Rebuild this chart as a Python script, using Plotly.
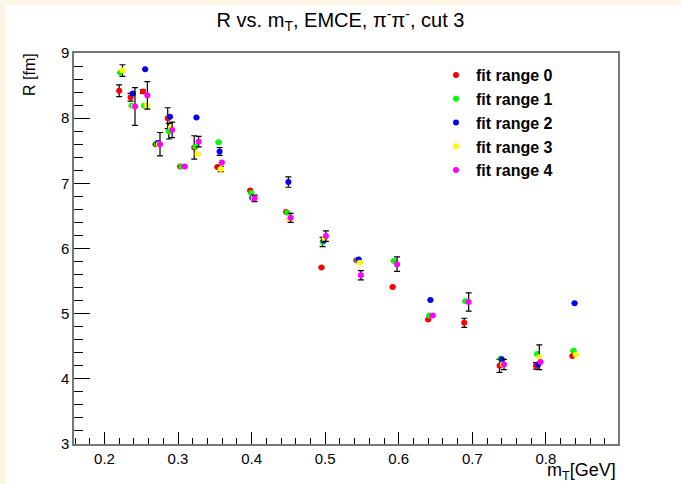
import plotly.graph_objects as go

# ---- data -------------------------------------------------------------
series_names = ["fit range 0", "fit range 1", "fit range 2", "fit range 3", "fit range 4"]
series_colors = ["#ff0000", "#00ff00", "#0000ff", "#ffff00", "#ff00ff"]

mT_fit0 = [0.220, 0.2355, 0.2523, 0.2695, 0.286, 0.303, 0.322, 0.3535, 0.398, 0.447, 0.495, 0.5425, 0.5917, 0.640, 0.689, 0.737, 0.7865, 0.836]
mT_fit1 = [0.2215, 0.237, 0.2538, 0.271, 0.2875, 0.3045, 0.3235, 0.355, 0.3995, 0.4485, 0.4965, 0.544, 0.5932, 0.6415, 0.6905, 0.7385, 0.788, 0.8375]
mT_fit2 = [0.223, 0.2385, 0.2553, 0.2725, 0.289, 0.306, 0.325, 0.3565, 0.401, 0.450, 0.498, 0.5455, 0.5947, 0.643, 0.692, 0.740, 0.7895, 0.839]
mT_fit3 = [0.2245, 0.240, 0.2568, 0.274, 0.2905, 0.3075, 0.3265, 0.358, 0.4025, 0.4515, 0.4995, 0.547, 0.5962, 0.6445, 0.6935, 0.7415, 0.791, 0.8405]
mT_fit4 = [0.226, 0.2415, 0.2583, 0.2755, 0.292, 0.309, 0.328, 0.3595, 0.404, 0.453, 0.501, 0.5485, 0.5977, 0.646, 0.695, 0.743, 0.7925, 0.842]

R_fit0 = [8.42, 8.32, 8.41, 7.60, 8.00, 7.26, 7.55, 7.25, 6.89, 6.56, 5.71, 5.82, 5.41, 4.91, 4.86, 4.20, 4.20, 4.35]
R_fit1 = [8.70, 8.19, 8.19, 7.61, 7.80, 7.26, 7.56, 7.63, 6.85, 6.55, 6.10, 5.82, 5.81, 4.97, 5.19, 4.31, 4.38, 4.43]
R_fit2 = [None, 8.38, 8.75, 7.62, 8.02, None, 8.01, 7.49, 6.78, 7.02, 6.12, 5.83, None, 5.21, None, 4.30, 4.22, 5.16]
R_fit3 = [8.73, 8.18, 8.19, 7.60, 7.86, None, 7.45, 7.22, 6.78, 6.45, 6.15, 5.78, None, None, None, 4.22, 4.33, 4.37]
R_fit4 = [None, 8.18, 8.35, 7.60, 7.82, 7.26, 7.64, 7.32, 6.77, 6.47, 6.19, 5.59, 5.76, 4.97, 5.18, 4.22, 4.26, None]

dR_fit0 = [0.09, 0.06, 0.03, 0, 0.16, 0, 0.18, 0, 0, 0, 0, 0, 0, 0, 0.07, 0.10, 0.05, 0]
dR_fit1 = [0, 0, 0, 0, 0.12, 0, 0, 0, 0, 0, 0.07, 0, 0, 0, 0, 0, 0, 0]
dR_fit2 = [0, 0, 0, 0, 0, 0, 0, 0.06, 0, 0.08, 0, 0, 0, 0, 0, 0, 0, 0]
dR_fit3 = [0.09, 0, 0, 0, 0, 0, 0, 0.04, 0, 0, 0, 0, 0, 0, 0, 0, 0.19, 0]
dR_fit4 = [0, 0.29, 0.21, 0.18, 0.12, 0, 0.08, 0, 0.05, 0.07, 0.08, 0.07, 0.11, 0, 0.14, 0.08, 0, 0]

x_lists = [mT_fit0, mT_fit1, mT_fit2, mT_fit3, mT_fit4]
y_lists = [R_fit0, R_fit1, R_fit2, R_fit3, R_fit4]
e_lists = [dR_fit0, dR_fit1, dR_fit2, dR_fit3, dR_fit4]

x_tick_vals = [0.2, 0.3, 0.4, 0.5, 0.6, 0.7, 0.8]
y_tick_vals = [3, 4, 5, 6, 7, 8, 9]

# ---- figure -------------------------------------------------------------
FONT = "Liberation Sans, Arial, sans-serif"
fig = go.Figure()
for name, col, xs, ys, es in zip(series_names, series_colors, x_lists, y_lists, e_lists):
    fig.add_trace(go.Scatter(
        x=xs, y=ys, name=name, mode="markers",
        marker=dict(color=col, size=6, line=dict(width=0)),
        error_y=dict(type="data", array=es, visible=True, color="black", thickness=1.2, width=3),
    ))

W, H = 681, 484
L, R_, T, B = 74, 63, 53, 40
pw, ph = W - L - R_, H - T - B

fig.update_layout(
    width=W, height=H,
    margin=dict(l=L, r=R_, t=T, b=B),
    paper_bgcolor="#fcf4e4",
    plot_bgcolor="white",
    font=dict(family=FONT, color="black"),
    title=dict(text="R vs. m<sub>T</sub>, EMCE, π<sup>-</sup>π<sup>-</sup>, cut 3",
               x=0.5, xanchor="center", y=1 - 20 / H, yanchor="middle", yref="container",
               font=dict(size=20, family=FONT, color="black")),
    showlegend=True,
    legend=dict(x=(436 - L) / pw, xanchor="left", y=(H - B - 58) / ph, yanchor="top",
                bgcolor="rgba(0,0,0,0)", borderwidth=0,
                font=dict(size=16, family=FONT, weight="bold", color="black")),
    shapes=[dict(type="rect", xref="paper", yref="paper", layer="below",
                 x0=(6 - L) / pw, x1=(W - L) / pw, y0=-B / ph, y1=(H - B - 5) / ph,
                 fillcolor="white", line=dict(width=0))],
    annotations=[
        dict(text="R [fm]", textangle=-90, xref="paper", yref="paper",
             x=(30 - L) / pw, y=(H - B - 75) / ph, xanchor="center", yanchor="middle",
             showarrow=False, font=dict(size=16, family=FONT, color="black")),
        dict(text="m<sub>T</sub>[GeV]", xref="paper", yref="paper",
             x=1.0, y=(H - B - 471) / ph, xanchor="right", yanchor="middle",
             showarrow=False, font=dict(size=18, family=FONT, color="black")),
    ],
)
fig.update_xaxes(range=[0.1586, 0.898], tickvals=x_tick_vals, ticktext=[f"{v:.1f}" for v in x_tick_vals],
                 ticks="inside", ticklen=12, tickwidth=1, tickcolor="black",
                 minor=dict(ticks="inside", ticklen=6, dtick=0.02, tick0=0.2, tickcolor="black", tickwidth=1),
                 showgrid=False, zeroline=False, showline=True, linecolor="#777777", linewidth=1.5, mirror=True,
                 tickfont=dict(size=15, family=FONT, color="black"))
fig.update_yaxes(range=[3, 9], tickvals=y_tick_vals,
                 ticks="inside", ticklen=16, tickwidth=1, tickcolor="black",
                 minor=dict(ticks="inside", ticklen=9, dtick=0.2, tick0=3, tickcolor="black", tickwidth=1),
                 showgrid=False, zeroline=False, showline=True, linecolor="#777777", linewidth=1.5, mirror=True,
                 tickfont=dict(size=15, family=FONT, color="black"))

fig.write_html("out.html")
